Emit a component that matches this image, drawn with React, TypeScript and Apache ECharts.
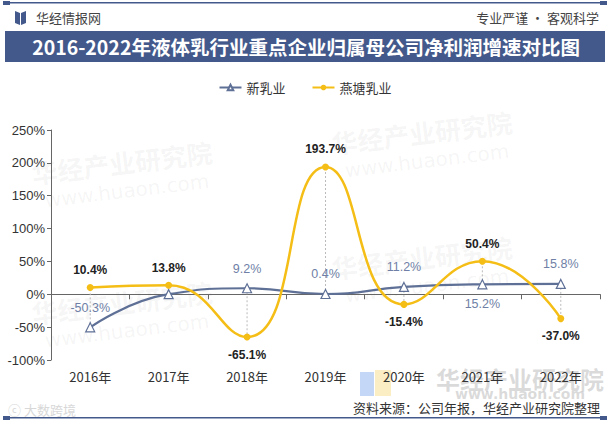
import React, { useEffect, useRef } from "react";
import * as echarts from "echarts";

const years = ["2016年", "2017年", "2018年", "2019年", "2020年", "2021年", "2022年"];
const xinRuye = [-50.3, 0.2, 9.2, 0.4, 11.2, 15.2, 15.8];
const yanTang = [10.4, 13.8, -65.1, 193.7, -15.4, 50.4, -37.0];
// label side for 新乳业 points ("" = no label)
const xinLabelPos = ["top", "", "top", "top", "top", "bottom", "top"];
const yTicks = { min: -100, max: 250, interval: 50 };

const BLUE = "#5f7096";
const YELLOW = "#f5be16";
const NAVY = "#43598b";

const App: React.FC = () => {
  const chartRef = useRef<HTMLDivElement>(null);

  useEffect(() => {
    if (!chartRef.current) return;
    const chart = echarts.init(chartRef.current, undefined, { renderer: "svg" });

    const watermark = (x: number, y: number) => ({
      type: "group",
      x,
      y,
      rotation: 0.12,
      silent: true,
      children: [
        {
          type: "text",
          style: {
            text: "华经产业研究院",
            fill: "rgba(120,120,120,0.07)",
            font: 'bold 26px "Noto Sans CJK SC"',
          },
        },
        {
          type: "text",
          y: 32,
          x: 10,
          style: {
            text: "www.huaon.com",
            fill: "rgba(120,120,120,0.07)",
            font: '20px "DejaVu Sans"',
          },
        },
      ],
    });

    chart.setOption({
      animation: false,
      backgroundColor: "#ffffff",
      graphic: [
        watermark(30, 160),
        watermark(30, 300),
        watermark(330, 130),
        watermark(330, 255),
        // top rule
        { type: "rect", shape: { x: 3, y: 2, width: 604, height: 1.5 }, style: { fill: NAVY } },
        { type: "rect", shape: { x: 3, y: 1, width: 7, height: 4 }, style: { fill: NAVY } },
        { type: "rect", shape: { x: 600, y: 1, width: 7, height: 4 }, style: { fill: NAVY } },
        // logo icon
        { type: "polygon", shape: { points: [[15, 11], [20, 13], [20, 25], [15, 23]] }, style: { fill: NAVY } },
        { type: "polygon", shape: { points: [[21, 13], [26, 11], [26, 23], [21, 25]] }, style: { fill: NAVY } },
        {
          type: "text",
          x: 36,
          y: 17,
          style: { text: "华经情报网", font: '13px "Noto Sans CJK SC"', fill: "#444", verticalAlign: "middle" },
        },
        {
          type: "text",
          x: 599,
          y: 17,
          style: {
            text: "专业严谨 • 客观科学",
            font: '13px "Noto Sans CJK SC"',
            fill: "#444",
            align: "right",
            verticalAlign: "middle",
          },
        },
        // title band
        { type: "rect", shape: { x: 5, y: 31, width: 600, height: 31 }, style: { fill: NAVY } },
        {
          type: "text",
          x: 306,
          y: 46.5,
          style: {
            text: "2016-2022年液体乳行业重点企业归属母公司净利润增速对比图",
            font: 'bold 19.5px "Noto Sans CJK SC"',
            fill: "#ffffff",
            align: "center",
            verticalAlign: "middle",
          },
        },
        // bottom-left faint logo
        {
          type: "text",
          x: 8,
          y: 409,
          style: { text: "ⓒ 大数跨境", font: '13px "Noto Sans CJK SC"', fill: "#d8d8d8", verticalAlign: "middle" },
        },
        // bottom-right watermark
        { type: "rect", shape: { x: 360, y: 372, width: 14, height: 24 }, style: { fill: "rgba(90,140,230,0.35)" } },
        { type: "rect", shape: { x: 375, y: 370, width: 16, height: 26 }, style: { fill: "rgba(245,200,60,0.3)" } },
        {
          type: "text",
          x: 520,
          y: 378,
          style: {
            text: "华经产业研究院",
            font: 'bold 24px "Noto Sans CJK SC"',
            fill: "rgba(150,150,150,0.35)",
            align: "center",
            verticalAlign: "middle",
          },
        },
        {
          type: "text",
          x: 520,
          y: 394,
          style: {
            text: "www.huaon.com",
            font: 'bold 14px "DejaVu Sans"',
            fill: "rgba(150,150,150,0.35)",
            align: "center",
            verticalAlign: "middle",
          },
        },
        {
          type: "text",
          x: 600,
          y: 407,
          style: {
            text: "资料来源：公司年报，华经产业研究院整理",
            font: '13px "Noto Sans CJK SC"',
            fill: "#333",
            align: "right",
            verticalAlign: "middle",
          },
        },
        // bottom rule
        { type: "rect", shape: { x: 3, y: 417, width: 604, height: 1.5 }, style: { fill: NAVY } },
        { type: "rect", shape: { x: 3, y: 416, width: 7, height: 4 }, style: { fill: NAVY } },
        { type: "rect", shape: { x: 600, y: 416, width: 7, height: 4 }, style: { fill: NAVY } },
      ],
      legend: {
        top: 76,
        left: "center",
        itemGap: 26,
        itemWidth: 22,
        itemHeight: 7,
        textStyle: { fontSize: 13, color: "#333", fontFamily: "Noto Sans CJK SC" },
        data: ["新乳业", "燕塘乳业"],
      },
      grid: { left: 51, right: 10, top: 130, bottom: 64 },
      xAxis: {
        type: "category",
        data: years,
        boundaryGap: true,
        axisLine: { lineStyle: { color: "#666" } },
        axisTick: { show: true, length: 5, lineStyle: { color: "#666" } },
        axisLabel: { fontSize: 13, color: "#333", margin: 10, fontFamily: "Noto Sans CJK SC" },
      },
      yAxis: {
        type: "value",
        ...yTicks,
        splitLine: { show: false },
        axisLine: { show: true, lineStyle: { color: "#666" } },
        axisTick: { show: true, length: 4, lineStyle: { color: "#666" } },
        axisLabel: { formatter: "{value}%", fontSize: 13, color: "#333", margin: 6, fontFamily: "Arial" },
      },
      series: [
        {
          name: "drop",
          type: "custom",
          silent: true,
          z: 1,
          data: years.map((_, i) => [i, xinRuye[i], yanTang[i]]),
          renderItem: (_params: any, api: any) => {
            const a = api.coord([api.value(0), api.value(1)]);
            const b = api.coord([api.value(0), api.value(2)]);
            return {
              type: "line",
              shape: { x1: a[0], y1: a[1], x2: b[0], y2: b[1] },
              style: { stroke: "#bbbbbb", lineWidth: 1, lineDash: [2, 2] },
            };
          },
        },
        {
          name: "新乳业",
          type: "line",
          smooth: true,
          z: 3,
          symbol: "triangle",
          symbolSize: 9,
          itemStyle: { color: "#ffffff", borderColor: BLUE, borderWidth: 1.2 },
          lineStyle: { color: BLUE, width: 2.2 },
          data: xinRuye.map((v, i) => ({
            value: v,
            label: xinLabelPos[i]
              ? { show: true, position: xinLabelPos[i] as any }
              : { show: false },
          })),
          label: {
            formatter: (p: any) => `${p.value.toFixed(1)}%`,
            fontSize: 12.5,
            color: "#6f7fa6",
            distance: 8,
            fontFamily: "Arial",
          },
        },
        {
          name: "燕塘乳业",
          type: "line",
          smooth: true,
          z: 4,
          symbol: "circle",
          symbolSize: 7,
          itemStyle: { color: YELLOW },
          lineStyle: { color: YELLOW, width: 2.5 },
          data: yanTang.map((v) => ({
            value: v,
            label: { show: true, position: v >= 0 ? "top" : "bottom" },
          })),
          label: {
            formatter: (p: any) => `${p.value.toFixed(1)}%`,
            fontSize: 12,
            fontWeight: "bold",
            color: "#222",
            distance: 8,
            fontFamily: "Arial",
          },
        },
      ],
    });

    return () => {
      chart.dispose();
    };
  }, []);

  return (
    <div
      ref={chartRef}
      style={{ position: "absolute", left: 0, top: 0, width: 610, height: 424 }}
    />
  );
};

export default App;
